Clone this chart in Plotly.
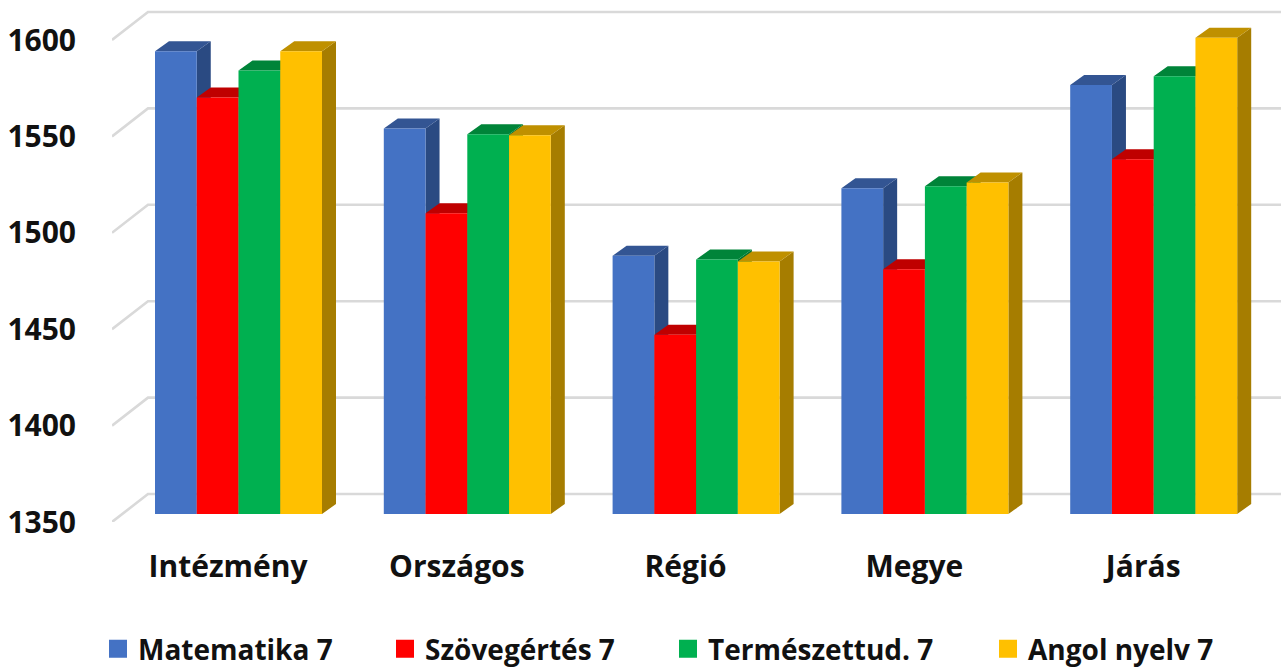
import plotly.graph_objects as go

categories = ["Intézmény", "Országos", "Régió", "Megye", "Járás"]
series_names = ["Matematika 7", "Szövegértés 7", "Természettud. 7", "Angol nyelv 7"]
matematika = [1590, 1550, 1484, 1519, 1572.5]
szovegertes = [1566, 1506, 1443, 1477, 1534]
termeszettud = [1580, 1547, 1482, 1520, 1577]
angol = [1590, 1546.5, 1481, 1522, 1597]
y_ticks = [1350, 1400, 1450, 1500, 1550, 1600]

front_colors = ["#4472C4", "#FF0000", "#00B050", "#FFC000"]
top_colors = ["#335593", "#BF0000", "#008439", "#BF9000"]
side_colors = ["#2A4A82", "#A80000", "#007432", "#A67D00"]
series = [matematika, szovegertes, termeszettud, angol]

W, H = 1281, 668
L, FLOOR = 112, 522          # pixel position of the left edge and of the front floor
PX_UNIT = 1.928              # pixels per value unit
PX_CAT = 228.8               # pixels per category
CAT0 = 228                   # pixel position of category 0
x_range = [(L - CAT0) / PX_CAT, (W - CAT0) / PX_CAT]
y_top = 1350 + FLOOR / PX_UNIT
bar_shift = 8 / PX_UNIT      # bars stand 8 px behind the front floor
bar_w = 41.75 / PX_CAT
group_start = -73 / PX_CAT
bar_dx, bar_dy = 14 / PX_CAT, 10 / PX_UNIT
wall_dx, wall_dy = 36 / PX_CAT, 28 / PX_UNIT

fig = go.Figure()

# back wall grid lines, running forward to the axis labels
for t in y_ticks:
    fig.add_trace(go.Scatter(
        x=[x_range[0], x_range[0] + wall_dx, x_range[1]],
        y=[t, t + wall_dy, t + wall_dy], mode="lines",
        line=dict(color="#D9D9D9", width=2.6), showlegend=False, hoverinfo="skip",
        xaxis="x", yaxis="y"))

# bar sides and tops
for j, vals in enumerate(series):
    sx, sy, tx, ty = [], [], [], []
    for i, v in enumerate(vals):
        x0 = i + group_start + j * bar_w
        x1 = x0 + bar_w
        sx += [x1, x1 + bar_dx, x1 + bar_dx, x1, x1, None]
        sy += [1350, 1350 + bar_dy, v + bar_dy, v, 1350, None]
        tx += [x0, x0 + bar_dx, x1 + bar_dx, x1, x0, None]
        ty += [v, v + bar_dy, v + bar_dy, v, v, None]
    fig.add_trace(go.Scatter(x=sx, y=sy, mode="lines", fill="toself", fillcolor=side_colors[j],
                             line=dict(width=0, color=side_colors[j]), showlegend=False,
                             hoverinfo="skip", xaxis="x", yaxis="y2"))
    fig.add_trace(go.Scatter(x=tx, y=ty, mode="lines", fill="toself", fillcolor=top_colors[j],
                             line=dict(width=0, color=top_colors[j]), showlegend=False,
                             hoverinfo="skip", xaxis="x", yaxis="y2"))

# bar fronts
for j, vals in enumerate(series):
    fig.add_trace(go.Bar(
        x=list(range(len(categories))), y=[v - 1350 for v in vals], base=1350,
        width=bar_w, offset=group_start + j * bar_w, marker=dict(color=front_colors[j], line_width=0),
        name=series_names[j], showlegend=False, customdata=vals,
        hovertemplate="%{customdata}<extra>" + series_names[j] + "</extra>",
        xaxis="x", yaxis="y3"))

# legend entries
legend_font = dict(family="Open Sans", size=28, color="#111111", weight="bold")
swatch_px = [103, 390, 673, 993]
legend_ids = ["legend", "legend2", "legend3", "legend4"]
legends = {}
for j, name in enumerate(series_names):
    fig.add_trace(go.Scatter(x=[None], y=[None], mode="markers", name=name,
                             marker=dict(symbol="square", size=18, color=front_colors[j],
                                         line=dict(width=2, color=front_colors[j])),
                             legend=legend_ids[j], xaxis="x", yaxis="y"))
    legends[legend_ids[j]] = dict(
        xref="container", yref="container", x=(swatch_px[j] - 5) / W, y=1 - 649 / H,
        xanchor="left", yanchor="middle", orientation="h", itemsizing="trace",
        bgcolor="rgba(0,0,0,0)", font=legend_font, itemclick=False, itemdoubleclick=False)

tick_font = dict(family="Open Sans", size=30, color="#111111", weight="bold")
fig.update_layout(
    width=W, height=H, paper_bgcolor="white", plot_bgcolor="white",
    margin=dict(l=L, r=0, t=0, b=H - FLOOR, pad=0, autoexpand=False),
    barmode="overlay",
    xaxis=dict(range=x_range, tickmode="array", tickvals=list(range(len(categories))),
               ticktext=categories, showgrid=False, zeroline=False, showline=False,
               ticks="outside", ticklen=18, tickcolor="rgba(0,0,0,0)", tickfont=tick_font,
               fixedrange=True),
    yaxis=dict(range=[1350, y_top], tickmode="array", tickvals=y_ticks,
               showgrid=False, zeroline=False, showline=False,
               ticks="outside", ticklen=29, tickcolor="rgba(0,0,0,0)", tickfont=tick_font,
               fixedrange=True),
    yaxis2=dict(range=[1350 - bar_shift, y_top - bar_shift], overlaying="y", visible=False, fixedrange=True),
    yaxis3=dict(range=[1350 - bar_shift, y_top - bar_shift], overlaying="y", visible=False, fixedrange=True),
    **legends,
)

fig.write_html("out.html", config={"displayModeBar": False},
               post_script="document.body.style.margin='0';document.body.style.overflow='hidden';")
